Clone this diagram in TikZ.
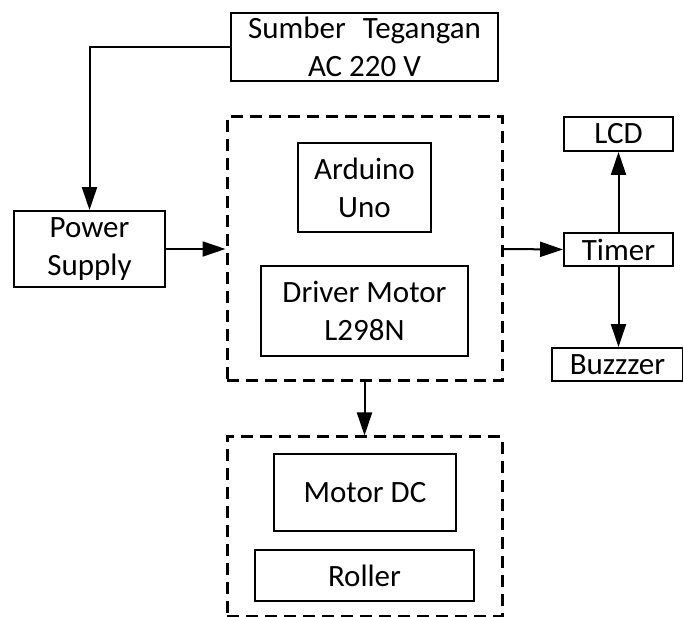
\documentclass[tikz,border=0pt]{standalone}
\usepackage{fontspec}
\setmainfont{Carlito}
\usetikzlibrary{arrows.meta}
\begin{document}
\begin{tikzpicture}[x=1pt,y=-1pt,
  blk/.style={draw,line width=1.9pt,rectangle,inner sep=0pt,align=center,
    font=\fontsize{31}{37.8}\selectfont},
  grp/.style={draw,line width=3pt,dash pattern=on 12pt off 7pt,rectangle,inner sep=0pt},
  conn/.style={line width=2pt,-{Triangle[length=23pt,width=15pt]}}]
\useasboundingbox (0,0) rectangle (683,617);
\node[blk,minimum width=267pt,minimum height=68pt] (sumber) at (364.5,47) {Sumber\hspace{0.55em}Tegangan\\AC 220 V};
\node[blk,minimum width=151pt,minimum height=76pt] (ps) at (89.5,249) {Power\\Supply};
\node[grp,minimum width=275pt,minimum height=264pt] (g1) at (364.5,249) {};
\node[blk,minimum width=133pt,minimum height=89pt] (ard) at (364.5,187.5) {Arduino\\Uno};
\node[blk,minimum width=207pt,minimum height=90pt] (drv) at (364.5,311) {Driver Motor\\L298N};
\node[blk,minimum width=109pt,minimum height=33pt] (timer) at (618.5,249.5) {Timer};
\node[blk,minimum width=109pt,minimum height=34pt] (lcd) at (618.5,134) {LCD};
\node[blk,minimum width=131pt,minimum height=33pt] (buzz) at (617.5,364.5) {Buzzzer};
\node[grp,minimum width=275pt,minimum height=179pt] (g2) at (364.5,526.5) {};
\node[blk,minimum width=182pt,minimum height=77pt] (motor) at (365,492.5) {Motor DC};
\node[blk,minimum width=219pt,minimum height=51pt] (roller) at (364.5,575.5) {Roller};
\draw[conn] (sumber.west) -| (ps.north);
\draw[conn] (ps.east) -- (g1.west);
\draw[conn] (g1.east) -- (timer.west);
\draw[conn] (timer.north) -- (lcd.south);
\draw[conn] (timer.south) -- (timer.south |- buzz.north);
\draw[conn] (g1.south) -- (g2.north);
\end{tikzpicture}
\end{document}
